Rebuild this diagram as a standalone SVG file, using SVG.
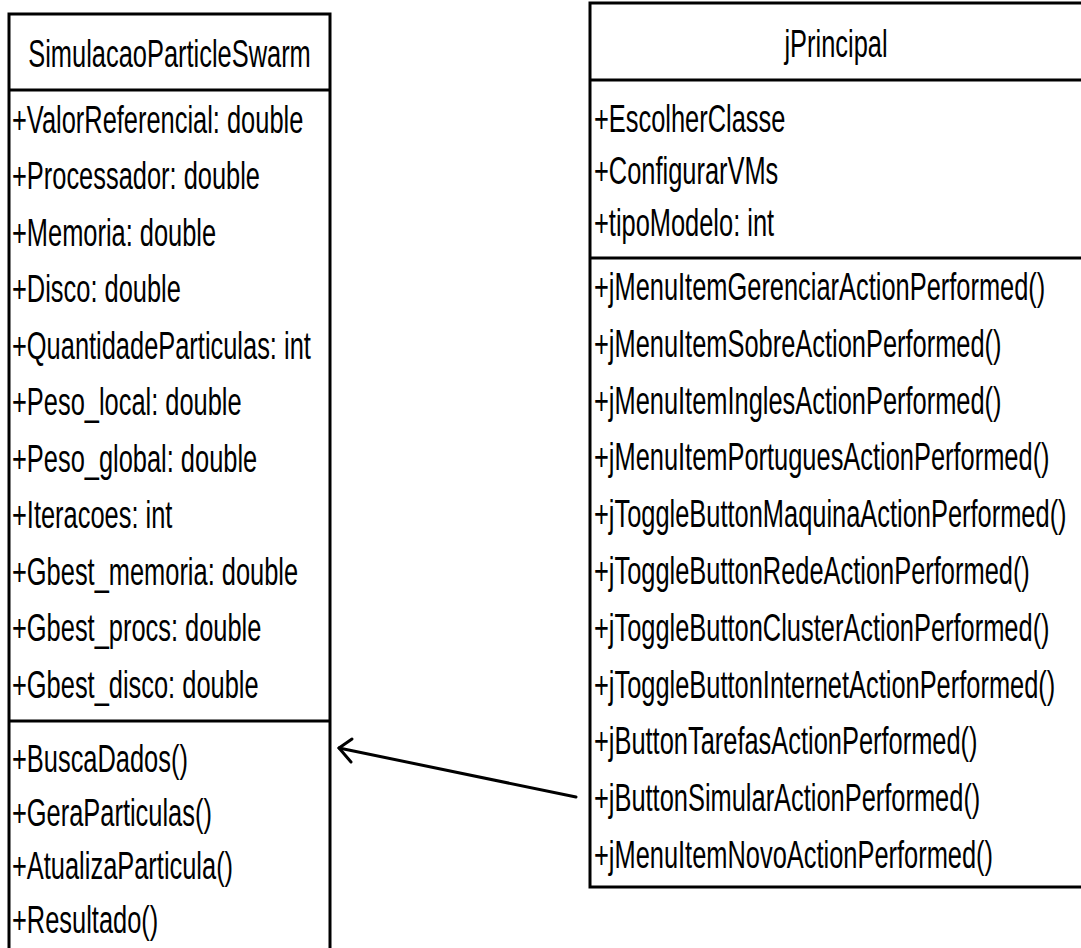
<svg xmlns="http://www.w3.org/2000/svg" width="1081" height="948" viewBox="0 0 1081 948">
  <style>
    .box { fill: #ffffff; stroke: #000000; stroke-width: 3; }
    .sep { stroke: #000000; stroke-width: 3; }
    .t { font-family: "Liberation Sans", Arial, sans-serif; font-size: 39px; fill: #000000; }
    .c { text-anchor: middle; }
    .edge { fill: none; stroke: #000000; stroke-width: 3; stroke-linecap: round; stroke-linejoin: round; }
  </style>
  <rect x="0" y="0" width="1081" height="948" fill="#ffffff"/>

  <!-- class SimulacaoParticleSwarm -->
  <g id="simulacao">
    <rect class="box" x="9" y="14" width="321" height="960"/>
    <line class="sep" x1="9" y1="90" x2="330" y2="90"/>
    <line class="sep" x1="9" y1="721" x2="330" y2="721"/>
    <g transform="scale(0.652 1)">
      <text class="t c" x="260" y="67">SimulacaoParticleSwarm</text>
      <text class="t" x="18.4" y="133">+ValorReferencial: double</text>
      <text class="t" x="18.4" y="189.5">+Processador: double</text>
      <text class="t" x="18.4" y="246">+Memoria: double</text>
      <text class="t" x="18.4" y="302.5">+Disco: double</text>
      <text class="t" x="18.4" y="359">+QuantidadeParticulas: int</text>
      <text class="t" x="18.4" y="415.5">+Peso_local: double</text>
      <text class="t" x="18.4" y="472">+Peso_global: double</text>
      <text class="t" x="18.4" y="528.5">+Iteracoes: int</text>
      <text class="t" x="18.4" y="585">+Gbest_memoria: double</text>
      <text class="t" x="18.4" y="641.5">+Gbest_procs: double</text>
      <text class="t" x="18.4" y="698">+Gbest_disco: double</text>
      <text class="t" x="18.4" y="772">+BuscaDados()</text>
      <text class="t" x="18.4" y="825.7">+GeraParticulas()</text>
      <text class="t" x="18.4" y="879.4">+AtualizaParticula()</text>
      <text class="t" x="18.4" y="933">+Resultado()</text>
    </g>
  </g>

  <!-- class jPrincipal -->
  <g id="jprincipal">
    <rect class="box" x="590" y="3" width="493" height="884"/>
    <line class="sep" x1="590" y1="80" x2="1083" y2="80"/>
    <line class="sep" x1="590" y1="258" x2="1083" y2="258"/>
    <g transform="scale(0.652 1)">
      <text class="t c" x="1282.2" y="57.5">jPrincipal</text>
      <text class="t" x="911" y="132">+EscolherClasse</text>
      <text class="t" x="911" y="184">+ConfigurarVMs</text>
      <text class="t" x="911" y="236">+tipoModelo: int</text>
      <text class="t" x="911" y="300">+jMenuItemGerenciarActionPerformed()</text>
      <text class="t" x="911" y="356.8">+jMenuItemSobreActionPerformed()</text>
      <text class="t" x="911" y="413.6">+jMenuItemInglesActionPerformed()</text>
      <text class="t" x="911" y="470.4">+jMenuItemPortuguesActionPerformed()</text>
      <text class="t" x="911" y="527.2">+jToggleButtonMaquinaActionPerformed()</text>
      <text class="t" x="911" y="584">+jToggleButtonRedeActionPerformed()</text>
      <text class="t" x="911" y="640.8">+jToggleButtonClusterActionPerformed()</text>
      <text class="t" x="911" y="697.6">+jToggleButtonInternetActionPerformed()</text>
      <text class="t" x="911" y="754.4">+jButtonTarefasActionPerformed()</text>
      <text class="t" x="911" y="811.2">+jButtonSimularActionPerformed()</text>
      <text class="t" x="911" y="868">+jMenuItemNovoActionPerformed()</text>
    </g>
  </g>

  <!-- dependency: jPrincipal uses SimulacaoParticleSwarm -->
  <g id="connectors">
    <line class="edge" x1="576" y1="797" x2="339" y2="748"/>
    <polyline class="edge" points="352,739 339,748 351,762"/>
  </g>
</svg>
